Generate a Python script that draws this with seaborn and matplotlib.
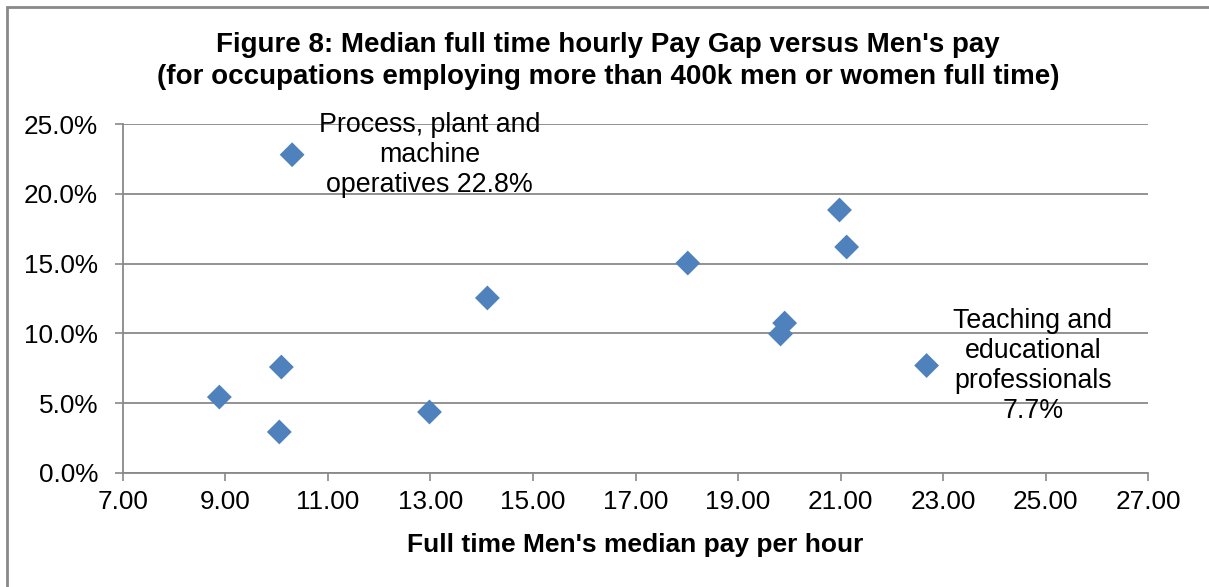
import matplotlib
matplotlib.use("Agg")
import matplotlib.pyplot as plt
import matplotlib.patches as mpatches
from matplotlib.ticker import FuncFormatter
import seaborn as sns
import pandas as pd

# Data
mens_pay = [10.30, 8.88, 10.09, 10.05, 12.98, 14.11, 18.02, 19.91, 19.83, 20.98, 21.12, 22.68]
pay_gap = [22.8, 5.44, 7.59, 2.94, 4.37, 12.54, 15.04, 10.74, 9.96, 18.84, 16.19, 7.7]
x_ticks = [7, 9, 11, 13, 15, 17, 19, 21, 23, 25, 27]
y_ticks = [0, 5, 10, 15, 20, 25]
title = "Figure 8: Median full time hourly Pay Gap versus Men's pay\n(for occupations employing more than 400k men or women full time)"
xlabel = "Full time Men's median pay per hour"
label_process = "Process, plant and\nmachine\noperatives 22.8%"
label_teaching = "Teaching and\neducational\nprofessionals\n7.7%"

df = pd.DataFrame({"pay": mens_pay, "gap": pay_gap})

sns.set_theme(style="white")
plt.rcParams['font.family'] = ['Liberation Sans', 'DejaVu Sans']
plt.rcParams['text.color'] = 'black'
plt.rcParams['axes.labelcolor'] = 'black'

fig = plt.figure(figsize=(12.09, 5.87), dpi=100)
ax = fig.add_axes([123/1209, 1-473/587, (1148-123)/1209, (473-124)/587])

sns.scatterplot(data=df, x="pay", y="gap", marker="D", s=160, color="#4F81BD",
                edgecolor="none", ax=ax, zorder=3)

ax.set_xlim(7, 27)
ax.set_ylim(0, 25)
ax.set_xticks(x_ticks)
ax.set_yticks(y_ticks)
ax.xaxis.set_major_formatter(FuncFormatter(lambda v, p: f"{v:.2f}"))
ax.yaxis.set_major_formatter(FuncFormatter(lambda v, p: f"{v:.1f}%"))
ax.tick_params(axis='both', labelsize=18.8, labelcolor='black', length=6, width=1.2,
               direction='out', bottom=True, left=True, color='#898989')
ax.tick_params(axis='x', pad=6)
ax.tick_params(axis='y', pad=12)

ax.grid(axis='y', color='#898989', linewidth=1.3)
ax.set_axisbelow(True)
for side in ['top', 'right']:
    ax.spines[side].set_visible(False)
for side in ['left', 'bottom']:
    ax.spines[side].set_color('#898989')
    ax.spines[side].set_linewidth(1.3)

ax.set_xlabel(xlabel, fontsize=19, fontweight='bold', labelpad=14, color='black')
ax.set_ylabel("")

# Annotations
ax.text(12.98, 22.78, label_process, ha='center', va='center', fontsize=19.3,
        linespacing=1.2, color='black')
ax.text(24.75, 7.65, label_teaching, ha='center', va='center', fontsize=19.3,
        linespacing=1.2, color='black')

fig.text(608/1209, 1-61/587, title, ha='center', va='center', fontsize=20,
         fontweight='bold', linespacing=1.3, color='black')

# Outer chart border
rect = mpatches.Rectangle((7/1209, -0.1), 1.2, 1 - 7/587 + 0.1, transform=fig.transFigure,
                          fill=False, edgecolor='#898989', linewidth=2, clip_on=False)
fig.patches.append(rect)

fig.savefig("out.png", dpi=100)
